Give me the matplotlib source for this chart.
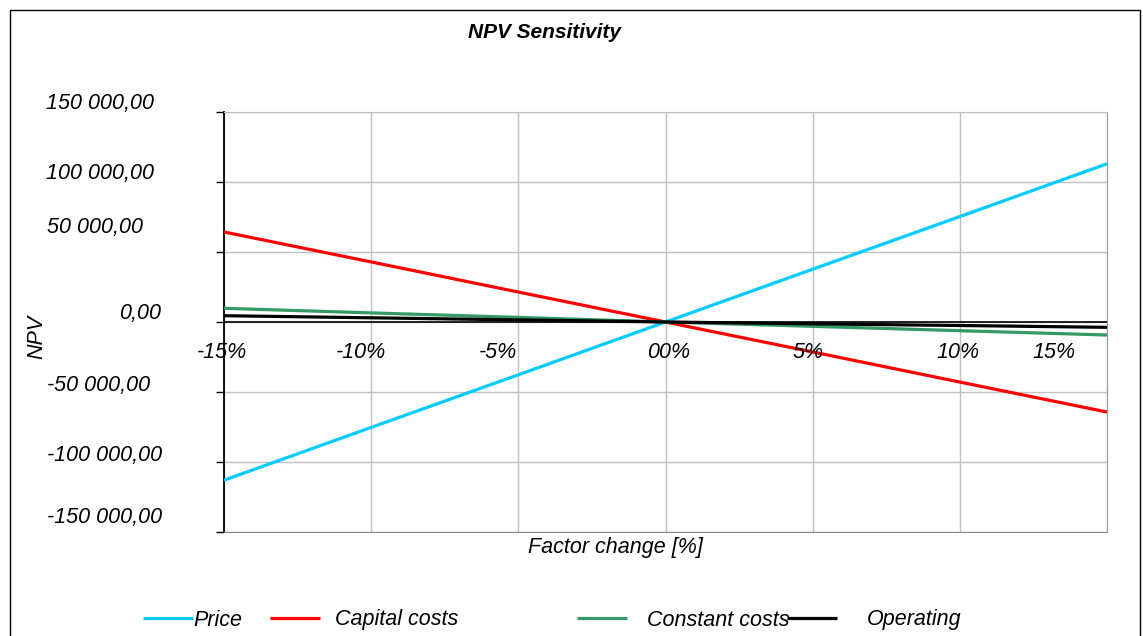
import matplotlib.pyplot as plt
from matplotlib.patches import Rectangle

plt.rcParams['font.family'] = ['Liberation Sans', 'DejaVu Sans']

# data
factor = [-15, -10, -5, 0, 5, 10, 15]
price = [-113000, -75300, -37700, 0, 37700, 75300, 113000]
capital = [64300, 42900, 21400, 0, -21400, -42900, -64300]
constant = [9800, 6500, 3300, 0, -3100, -6200, -9300]
operating = [4500, 3000, 1500, 0, -1300, -2500, -3800]

series_names = ['Price', 'Capital costs', 'Constant costs', 'Operating']
series_colors = ['#00ccff', '#ff0000', '#339966', '#000000']

y_ticks = [150000, 100000, 50000, 0, -50000, -100000, -150000]
y_labels = ['150 000,00', '100 000,00', '50 000,00', '0,00',
            '-50 000,00', '-100 000,00', '-150 000,00']
x_ticks = [-15, -10, -5, 0, 5, 10, 15]
x_labels = ['-15%', '-10%', '-5%', '00%', '5%', '10%', '15%']

W, H = 1143, 636
fig = plt.figure(figsize=(W / 100, H / 100), dpi=100)
ax = fig.add_axes([224 / W, 1 - 532 / H, (1107 - 224) / W, (532 - 112) / H])

fs = 15.5
for vals, name, col in zip([price, capital, constant, operating],
                           series_names, series_colors):
    ax.plot(factor, vals, color=col, lw=2.3, label=name, zorder=3,
            solid_capstyle='butt')

ax.axhline(0, color='black', lw=1.2, zorder=2)
ax.set_xlim(-15, 15)
ax.set_ylim(-150000, 150000)
ax.set_xticks(x_ticks)
ax.set_yticks(y_ticks)
ax.set_xticklabels([])
ax.set_yticklabels([])
ax.grid(True, color='#c0c0c0', lw=1)
ax.tick_params(axis='x', length=0)
ax.tick_params(axis='y', length=6, width=1, color='black', direction='out')

ax.spines['left'].set_color('black')
ax.spines['left'].set_linewidth(1.3)
ax.spines['bottom'].set_color('#888888')
ax.spines['right'].set_color('#999999')
ax.spines['top'].set_color('#c0c0c0')

# y tick labels sit a little off their gridlines in the original
y_off = [(-70, 9), (-70, 8), (-81, 24), (-63, 8), (-74, 7), (-62, 6), (-62, 15)]
for v, lab, (dx, dy) in zip(y_ticks, y_labels, y_off):
    ax.annotate(lab, xy=(0, v), xycoords=('axes fraction', 'data'),
                xytext=(dx, dy), textcoords='offset pixels',
                ha='right', va='center', fontsize=fs, style='italic')

x_off = [-2, -10, -20, 3, -5, -2, -53]
for v, lab, dx in zip(x_ticks, x_labels, x_off):
    ax.annotate(lab, xy=(v, 0), xytext=(dx, -31), textcoords='offset pixels',
                ha='center', va='center', fontsize=fs, style='italic',
                annotation_clip=False)

fig.text(545 / W, 1 - 33 / H, 'NPV Sensitivity', ha='center', va='center',
         fontsize=15, style='italic', weight='bold')
fig.text(615 / W, 1 - 548 / H, 'Factor change [%]', ha='center', va='center',
         fontsize=fs, style='italic')
fig.text(37 / W, 1 - 337 / H, 'NPV', ha='center', va='center',
         fontsize=fs, style='italic', rotation=90)

# legend entries are spread unevenly along the bottom
lines = ax.get_lines()[:4]
leg_x = [143, 270, 577, 787]
leg_pad = [0.0, 0.7, 0.93, 1.4]
for ln, name, lx, pad in zip(lines, series_names, leg_x, leg_pad):
    lg = fig.legend([ln], [name], loc='center left',
                    bbox_to_anchor=(lx / W, 1 - 620 / H), frameon=False,
                    borderpad=0, borderaxespad=0, handlelength=2.33,
                    handletextpad=pad, prop={'size': fs, 'style': 'italic'})

fig.patches.append(Rectangle((10 / W, -0.1), 1130 / W, 1.1 - 10 / H,
                             transform=fig.transFigure, fill=False,
                             edgecolor='black', lw=1))

fig.savefig('out.png', dpi=100)
